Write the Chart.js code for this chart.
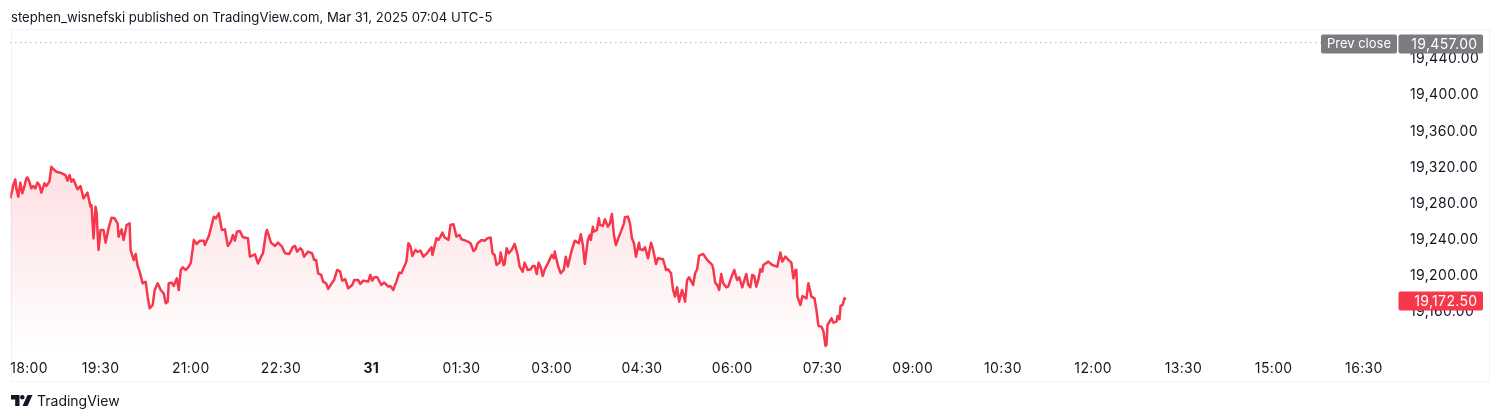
<!DOCTYPE html>
<html>
<head>
<meta charset="utf-8">
<script src="https://cdn.jsdelivr.net/npm/chart.js@4/dist/chart.umd.min.js"></script>
<style>
html,body{margin:0;padding:0;background:#fff;width:1500px;height:420px;overflow:hidden;font-family:Inter,"Liberation Sans",sans-serif;color:#131722}
#c{position:absolute;left:0;top:0}
#frame{position:absolute;left:11px;top:29px;width:1477px;height:351px;border:1px solid #f0f3fa;box-sizing:content-box}
#head{position:absolute;left:11px;top:9px;font-size:13.13px;line-height:16px;white-space:nowrap}
#brand{position:absolute;left:37px;top:392px;font-size:14px;line-height:18px;white-space:nowrap}
#logo{position:absolute;left:11px;top:395px}
</style>
</head>
<body>
<div id="frame"></div>
<canvas id="c" width="1500" height="420"></canvas>
<div id="head">stephen_wisnefski published on TradingView.com, Mar 31, 2025 07:04 UTC-5</div>
<svg id="logo" width="22" height="12" viewBox="0 0 22 12"><path d="M0 0H8.5V11H4.2V4.4H0Z" fill="#131722"/><circle cx="11.3" cy="2.2" r="2.2" fill="#131722"/><path d="M16.5 0H21.5L16.5 11H11.5Z" fill="#131722"/></svg>
<div id="brand">TradingView</div>
<script>
const minutes = [0,2,3,5,6,8,10,12,14,16,17,19,21,23,25,27,29,31,34,36,39,41,43,46,50,53,55,57,59,61,63,67,70,73,77,80,81,83,85,86,88,90,93,95,98,101,104,107,108,111,113,116,119,120,123,125,127,129,132,135,137,139,142,144,147,150,153,155,157,158,161,163,166,168,170,172,175,178,180,182,183,186,189,193,194,198,200,203,205,208,211,214,217,220,222,224,226,229,232,237,239,244,247,251,252,255,256,260,264,267,271,274,278,282,284,286,289,291,293,297,301,303,305,307,310,312,315,317,321,323,326,329,331,334,337,341,343,347,349,352,357,359,361,363,366,370,373,377,379,382,385,388,390,395,397,399,401,404,406,409,412,415,420,421,425,427,429,431,433,437,439,442,445,448,450,454,457,459,462,464,466,470,473,476,479,481,483,485,488,489,492,493,495,497,500,503,506,508,511,513,516,519,521,523,525,527,529,531,533,537,540,542,543,544,547,549,552,554,556,560,563,567,569,571,573,576,578,579,581,582,585,587,588,591,593,596,598,600,602,604,607,609,612,613,616,618,620,622,624,627,628,631,633,636,639,641,644,646,651,654,656,659,661,663,665,667,670,673,675,677,681,683,685,687,691,695,700,701,703,705,707,709,711,714,716,720,722,724,725,727,730,734,736,738,740,742,744,746,748,750,751,756,760,765,768,770,773,776,779,781,783,784,785,788,790,794,796,799,802,804,806,809,811,813,814,815,819,821,824,825,827,828,830,832,833];
const prices = [19284.7,19293.9,19299.5,19305.7,19295.8,19286.6,19302.1,19290.3,19297.6,19306.9,19308,19303.2,19295.8,19298.4,19295.8,19302.1,19299.5,19291,19301.3,19298.4,19303.2,19319.8,19316.8,19314.2,19313.1,19311.6,19310.5,19304.3,19310.5,19303.2,19305.7,19294.7,19298.4,19284.7,19291,19275.5,19277.3,19240.5,19275.5,19270,19227.6,19249.7,19249.7,19235.7,19251.5,19263.3,19262.6,19257.1,19242.3,19250.4,19238.6,19255.2,19257.1,19227.6,19216.5,19223.1,19209.9,19203.6,19190.7,19192.5,19175.9,19163,19166.7,19183.3,19190.7,19183.3,19179.6,19168.6,19170.4,19190.7,19191.4,19187.7,19196.2,19183.3,19205.4,19208.4,19205.4,19209.1,19213.5,19229.4,19238.6,19234.2,19237.9,19237.9,19233.1,19243,19251.5,19264.4,19262.6,19268.1,19249.7,19250.4,19232,19236.8,19244.2,19237.9,19247.8,19248.6,19241.6,19240.5,19220.2,19222.8,19212.8,19222,19223.9,19246.7,19249.7,19235.7,19232,19235.7,19231.2,19223.9,19223.1,19231.2,19232,19225.7,19229.4,19227.6,19220.2,19225.8,19223.9,19216.6,19216.6,19201.8,19200,19192.6,19190.7,19184.5,19191.5,19194.4,19205.5,19203.6,19193.7,19195.2,19185.2,19188.9,19194.4,19194.4,19190,19193.7,19192.6,19200,19193.7,19197.4,19197.4,19188.9,19191.5,19187,19187.8,19183.4,19192.6,19202.5,19201.8,19214.7,19235,19232,19221,19227.6,19225.4,19226.9,19220.2,19223.2,19230.6,19222.1,19240.5,19238.7,19242.4,19246.8,19241.6,19238.7,19255.3,19256,19242.4,19244.2,19239.4,19237.9,19236.5,19235,19226.5,19228.4,19235,19238.7,19237.9,19240.5,19241.3,19223.9,19222.1,19211,19213.6,19224.7,19210.6,19212.1,19229.5,19223.9,19227.6,19234.3,19222.1,19209.2,19203.6,19213.6,19205.5,19206.2,19209.9,19209.9,19201.1,19213.6,19208.4,19198.8,19206.2,19214.7,19222.1,19218.4,19225.8,19220.2,19207.3,19201.8,19205.5,19220.2,19209.2,19227.6,19237.9,19235,19245,19233.1,19212.1,19238.7,19244.2,19238.7,19253.4,19247.9,19249.7,19262.7,19255.3,19254.2,19261.5,19253.4,19257.1,19267.4,19244.2,19233.1,19242.4,19247.9,19257.1,19263.8,19264.5,19257.1,19240.5,19235,19220.2,19235.7,19228.4,19227.6,19230.6,19218.4,19235.7,19228.4,19212.1,19218.4,19217.3,19205.5,19206.2,19201.8,19183.4,19176,19186.3,19170.4,19183.4,19170.4,19194.4,19197.4,19188.9,19201.8,19206.2,19221.3,19223.2,19216.6,19211,19207.3,19191.5,19188.9,19183.4,19201.1,19190.7,19186.3,19187,19200,19205.5,19197.4,19194.4,19197.4,19186.3,19201.1,19188.9,19186.3,19200,19198.8,19187,19194.4,19206.2,19203.6,19211,19214.7,19211,19209.2,19224.7,19214.7,19220.2,19216.6,19213.6,19196.2,19205.5,19205.5,19176,19166.7,19176.7,19174.1,19190.7,19176,19174.1,19161.2,19143.5,19142.8,19137.3,19121.4,19122.5,19144.6,19151.9,19147.2,19148.3,19154.6,19150.9,19165.7,19166.7,19174.1,19172.5];
const timeTickMinutes = [18.7,90,180,270,360,450,540,630,720,810,900,990,1080,1170,1260,1350];
const timeTickLabels = ["18:00","19:30","21:00","22:30","31","01:30","03:00","04:30","06:00","07:30","09:00","10:30","12:00","13:30","15:00","16:30"];
const priceTicks = [19160,19200,19240,19280,19320,19360,19400,19440];
const prevClose = 19457;
const lastPrice = 19172.5;
const prevCloseLabel = "Prev close";

const FONT = 'Inter, "Liberation Sans", sans-serif';
const RED = '#f7374b';
const GREY = '#7b7c80';
const fmt = v => v.toLocaleString('en-US',{minimumFractionDigits:2,maximumFractionDigits:2});

const tags = {
  id:'tags',
  beforeDraw(chart){ chart.ctx.letterSpacing = '0.35px'; },
  afterDraw(chart){
    const {ctx,scales:{y}} = chart;
    const box = (x,w,val,col,txt,right,size,ls) => {
      const cy = Math.round(y.getPixelForValue(val))+1;
      ctx.fillStyle = col;
      ctx.beginPath(); ctx.roundRect(x,cy-9.5,w,19,2); ctx.fill();
      ctx.fillStyle = '#fff';
      ctx.font = size+'px '+FONT;
      ctx.letterSpacing = ls;
      ctx.textAlign = 'right'; ctx.textBaseline = 'middle';
      ctx.fillText(txt,right,cy+0.5);
    };
    box(1321,76,prevClose,GREY,prevCloseLabel,1391,13,'0px');
    box(1398.5,84.5,prevClose,GREY,fmt(prevClose),1477.5,14,'0.35px');
    box(1398.5,84.5,lastPrice,RED,fmt(lastPrice),1477.5,14,'0.35px');
  }
};

new Chart(document.getElementById('c'),{
  type:'line',
  data:{datasets:[
    {
      data:minutes.map((m,i)=>({x:m,y:prices[i]})),
      borderColor:RED,borderWidth:2.5,pointRadius:0,tension:0,fill:'start',
      borderJoinStyle:'round',
      backgroundColor(ctx){
        const {chart} = ctx;
        if(!chart.chartArea) return 'rgba(247,55,75,.1)';
        const g = chart.ctx.createLinearGradient(0,chart.scales.y.getPixelForValue(19320),0,chart.chartArea.bottom);
        g.addColorStop(0,'rgba(247,55,75,0.16)');
        g.addColorStop(1,'rgba(247,55,75,0)');
        return g;
      }
    },
    {
      data:[{x:0,y:prevClose},{x:1383,y:prevClose}],
      borderColor:'#8f939e',borderWidth:1,borderDash:[1,4],pointRadius:0,fill:false
    }
  ]},
  plugins:[tags],
  options:{
    responsive:false,animation:false,
    layout:{padding:{left:10.3,right:11,top:30,bottom:39}},
    plugins:{legend:{display:false},tooltip:{enabled:false},title:{display:false}},
    scales:{
      x:{
        type:'linear',min:0,max:1383,
        grid:{display:false},border:{display:false},
        afterBuildTicks(s){s.ticks = timeTickMinutes.map(v=>({value:v}));},
        afterFit(s){s.height = 29;},
        ticks:{
          autoSkip:false,maxRotation:0,padding:0,color:'#131722',
          font(c){return {family:FONT,size:14,weight:timeTickLabels[c.index]==='31'?'700':'400'};},
          callback(v,i){return timeTickLabels[i];}
        }
      },
      y:{
        position:'right',min:19114.7,max:19471,
        grid:{display:false},border:{display:false},
        afterBuildTicks(s){s.ticks = priceTicks.map(v=>({value:v}));},
        afterFit(s){s.width = 92;},
        ticks:{
          padding:5,labelOffset:1,color:'#131722',autoSkip:false,
          font:{family:FONT,size:14},
          callback:v=>fmt(v)
        }
      }
    }
  }
});
</script>
</body>
</html>
